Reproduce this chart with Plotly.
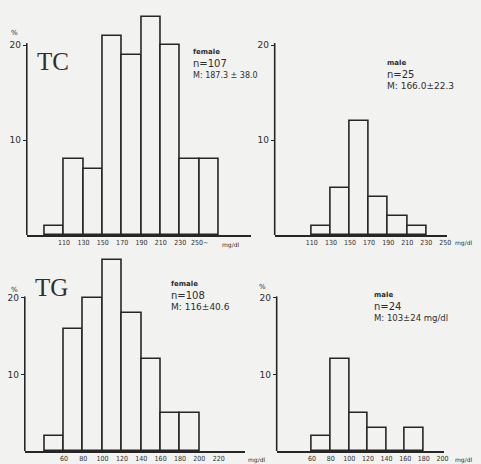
import plotly.graph_objects as go

W, H = 481, 464

# ---- data -------------------------------------------------------------
# Total cholesterol (TC), bin width 20 mg/dl, bins given by left edge
tc_female_left = [90, 110, 130, 150, 170, 190, 210, 230, 250]
tc_female_vals = [1, 8, 7, 21, 19, 23, 20, 8, 8]
tc_male_left = [110, 130, 150, 170, 190, 210]
tc_male_vals = [1, 5, 12, 4, 2, 1]

# Triglycerides (TG)
tg_female_left = [40, 60, 80, 100, 120, 140, 160, 180]
tg_female_vals = [2, 16, 20, 25, 18, 12, 5, 5]
tg_male_left = [60, 80, 100, 120, 140, 160]
tg_male_vals = [2, 12, 5, 3, 0, 3]

tc_female_ticks = [110, 130, 150, 170, 190, 210, 230, 250]
tc_female_ticktext = ["110", "130", "150", "170", "190", "210", "230", "250~"]
tc_male_ticks = [110, 130, 150, 170, 190, 210, 230, 250]
tg_female_ticks = [60, 80, 100, 120, 140, 160, 180, 200, 220]
tg_male_ticks = [60, 80, 100, 120, 140, 160, 180, 200]

stats = {
    "tc_f": ["female", "n=107", "M: 187.3 ± 38.0"],
    "tc_m": ["male", "n=25", "M: 166.0±22.3"],
    "tg_f": ["female", "n=108", "M: 116±40.6"],
    "tg_m": ["male", "n=24", "M: 103±24 mg/dl"],
}
BIN = 20

# ---- style ------------------------------------------------------------
BG = "#f2f2f0"
INK = "#262626"
TXT = "#2e2e2e"


def px(x, y):
    return x / W, 1 - y / H


# panels: (axis suffix, x px span, x range, y px span, y range)
panels = [
    ("", (27, 253), [71.5, 303], (7, 235), [0, 24]),
    ("2", (277, 451), [71, 252], (7, 235), [0, 24]),
    ("3", (25, 247), [19.5, 247.2], (252, 451), [0, 26]),
    ("4", (279, 448), [22, 202], (252, 451), [0, 26]),
]
series = [
    (tc_female_left, tc_female_vals, tc_female_ticks, tc_female_ticktext),
    (tc_male_left, tc_male_vals, tc_male_ticks, [str(v) for v in tc_male_ticks]),
    (tg_female_left, tg_female_vals, tg_female_ticks, [str(v) for v in tg_female_ticks]),
    (tg_male_left, tg_male_vals, tg_male_ticks, [str(v) for v in tg_male_ticks]),
]

fig = go.Figure()
layout = dict(
    width=W, height=H, margin=dict(l=0, r=0, t=0, b=0),
    paper_bgcolor=BG, plot_bgcolor=BG, showlegend=False, bargap=0,
)
shapes = []
for (suf, xs, xr, ys, yr), (left, vals, tv, tt) in zip(panels, series):
    xa = "x" + suf
    ya = "y" + suf
    fig.add_trace(go.Bar(
        x=[l + BIN / 2 for l in left], y=vals, width=BIN,
        xaxis=xa, yaxis=ya,
        marker=dict(color=BG, line=dict(color=INK, width=1.6)),
        hoverinfo="skip",
    ))
    layout["xaxis" + suf] = dict(
        domain=[xs[0] / W, xs[1] / W], range=xr, anchor=ya,
        showgrid=False, zeroline=False, showline=True, linecolor=INK, linewidth=1.6,
        tickmode="array", tickvals=tv, ticktext=tt, ticks="",
        tickfont=dict(family="DejaVu Sans Condensed, DejaVu Sans", size=7, color=TXT),
        fixedrange=True,
    )
    layout["yaxis" + suf] = dict(
        domain=[1 - ys[1] / H, 1 - ys[0] / H], range=yr, anchor=xa,
        showgrid=False, zeroline=False, showline=False,
        tickmode="array", tickvals=[10, 20], ticks="outside", ticklen=3,
        tickcolor=INK, tickwidth=1.2,
        tickfont=dict(family="DejaVu Sans", size=9, color=TXT),
        fixedrange=True,
    )
    # vertical axis line only up to the 20 mark
    shapes.append(dict(type="line", xref=xa + " domain", yref=ya,
                       x0=0, x1=0, y0=0, y1=20.2,
                       line=dict(color=INK, width=1.6)))

annotations = []


def note(x, y, text, size, anchor="left", family="DejaVu Sans", bold=False):
    ax, ay = px(x, y)
    annotations.append(dict(
        xref="paper", yref="paper", x=ax, y=ay, text=f"<b>{text}</b>" if bold else text,
        showarrow=False, xanchor=anchor, yanchor="middle",
        font=dict(family=family, size=size, color=TXT),
    ))


# panel titles
note(35, 62, "TC", 25, family="Liberation Serif")
note(33, 287, "TG", 25, family="Liberation Serif")

# percent marks above the y axes
note(15, 33, "%", 7, anchor="center")
note(15, 290, "%", 7, anchor="center")
note(265, 287, "%", 7, anchor="center")

# unit labels at the end of the x axes
note(222, 245, "mg/dl", 6)
note(457, 243, "mg/dl", 6)
note(248, 460, "mg/dl", 6)
note(457, 460, "mg/dl", 6)

# group statistics: (x, y, size of the M line)
for key, (x0, y0, msz) in {"tc_f": (193, 52, 8), "tc_m": (388, 63, 9),
                           "tg_f": (170, 284, 9), "tg_m": (375, 295, 8.5)}.items():
    s = stats[key]
    note(x0, y0, s[0], 7, bold=True)
    note(x0, y0 + 11, s[1], 10)
    note(x0, y0 + 23, s[2], msz)

layout["shapes"] = shapes
layout["annotations"] = annotations
fig.update_layout(**layout)
fig.write_html("out.html")
